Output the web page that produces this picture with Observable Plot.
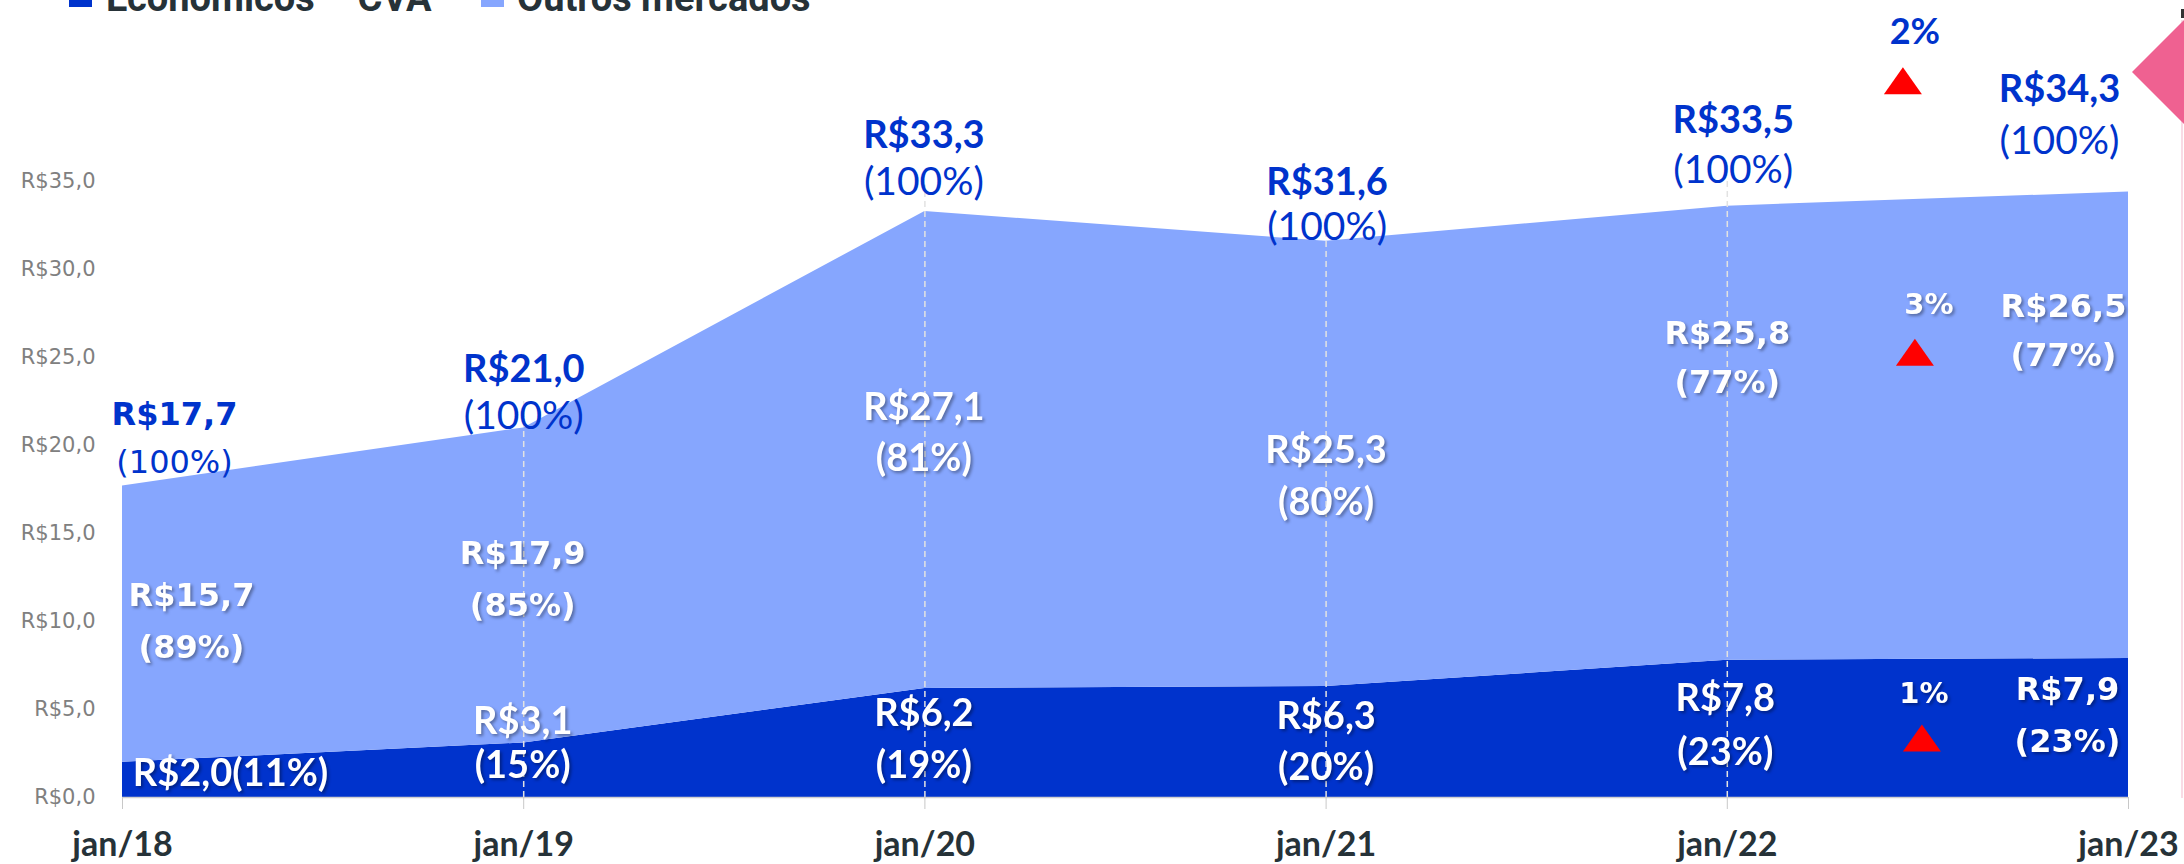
<!DOCTYPE html>
<html>
<head>
<meta charset="utf-8">
<script src="https://cdn.jsdelivr.net/npm/d3@7"></script>
<script src="https://cdn.jsdelivr.net/npm/@observablehq/plot@0.6"></script>
<style>
  html, body { margin: 0; padding: 0; background: #fff; overflow: hidden; }
  #wrap { position: relative; width: 2184px; height: 864px; overflow: hidden; }
  #chart { position: absolute; left: 0; top: 0; }
  .legend-swatch { position: absolute; width: 23px; height: 23px; top: -16px; }
  .legend-text { position: absolute; top: -21px; font: bold 38px Roboto, "Liberation Sans", sans-serif; line-height: 38px; color: #263238; white-space: nowrap; }
  .shadow { filter: drop-shadow(2px 2px 1.5px rgba(0,0,0,0.35)); }
  #deco-tri { position: absolute; left: 2132px; top: 20px; width: 52px; height: 104px; background: #ef6191; clip-path: polygon(0 50%, 100% 0, 100% 100%); }
  #deco-line { position: absolute; left: 2181px; top: 20px; width: 2px; height: 778px; background: #f9dbe5; }
  #deco-mark { position: absolute; left: 2181px; top: 9px; width: 3px; height: 9px; background: #333; }
</style>
</head>
<body>
<div id="wrap">
  <div id="chart"></div>
  <div id="legend"></div>
  <div id="deco-line"></div>
  <div id="deco-tri"></div>
  <div id="deco-mark"></div>
</div>
<script>
// ---------------- DATA ----------------
const periods = ["jan/18", "jan/19", "jan/20", "jan/21", "jan/22", "jan/23"];
const seriesNames = ["Econômicos – CVA", "Outros mercados"];
const economicos = [2.0, 3.1, 6.2, 6.3, 7.8, 7.9];
const outros = [15.7, 17.9, 27.1, 25.3, 25.8, 26.5];
const totais = [17.7, 21.0, 33.3, 31.6, 33.5, 34.3];
const pctEconomicos = [11, 15, 19, 20, 23, 23];
const pctOutros = [89, 85, 81, 80, 77, 77];
const pctTotal = [100, 100, 100, 100, 100, 100];
// growth jan/22 -> jan/23
const growthTotal = 2;
const growthOutros = 3;
const growthEconomicos = 1;
const yTicks = [0, 5, 10, 15, 20, 25, 30, 35];

// ---------------- STYLE / LAYOUT ----------------
const colors = ["#0033cc", "#86a6fe"];
const BLUE = "#0033cc";
const WIDE = "'DejaVu Sans', Verdana, sans-serif";
const NARROW = "Lato, 'Open Sans', sans-serif";
// label nudges in px, relative to anchor points (top: total; outros: middle of band; econ: middle of band)
const LAYOUT = {
  top:    {wide: [1,0,0,0,0,0], dx: [52,0,-1,1,6,-69],   dyV: [-71,-58,-76,-59,-87,-104], dyP: [-23,-11,-29,-14,-37,-52]},
  outros: {wide: [1,1,0,0,1,1], dx: [69,-1,-1,0,0,-65],  dyV: [-28,-32,-42,-13,-99,-119], dyP: [24,20,9,39,-50,-70]},
  econ:   {wide: [0,0,0,0,0,1], dx: [108,-1,-1,0,-2,-61], dyV: [-6,-48,-29,-25,-30,-38],   dyP: [0,-4,23,26,24,14]}
};
const GROWTH = {
  total:  {dxT: -13, dyT: -161, dxM: -25, dyM: -113},
  outros: {dxT: 1,   dyT: -121, dxM: -13, dyM: -73},
  econ:   {dxT: -4,  dyT: -34,  dxM: -6,  dyM: 10}
};

// ---------------- HELPERS ----------------
const fmtR = v => "R$" + v.toFixed(1).replace(".", ",");
const fmtP = p => "(" + p + "%)";
const idx = d3.range(periods.length);

function label(i, yVal, text, dx, dy, opts) {
  const wide = opts.wide;
  const bold = opts.bold !== false;
  return Plot.text([i], {
    x: d => d,
    y: () => yVal,
    text: () => text,
    dx, dy,
    textAnchor: "middle",
    fill: opts.fill,
    fontWeight: bold ? "bold" : "normal",
    fontFamily: wide ? WIDE : NARROW,
    fontSize: opts.size || (wide ? 32 : 38),
    className: opts.shadow ? "shadow" : undefined
  });
}

const flatTriangle = {
  draw(context) {
    context.moveTo(0, -13.5);
    context.lineTo(19, 13.5);
    context.lineTo(-19, 13.5);
    context.closePath();
  }
};

// ---------------- DATA TABLE ----------------
const rows = idx.flatMap(i => [
  {i, serie: seriesNames[0], v: economicos[i]},
  {i, serie: seriesNames[1], v: outros[i]}
]);

// ---------------- MARKS ----------------
const marks = [];
marks.push(Plot.areaY(rows, {x: "i", y: "v", z: "serie", fill: "serie"}));
marks.push(Plot.ruleX(idx.slice(1, 5), {x: d => d, y1: 0, y2: d => totais[d] + 1.5, stroke: "#e2e2e2", strokeWidth: 1.5, strokeDasharray: "6,4"}));
marks.push(Plot.ruleY([0], {stroke: "#d0d0d0", strokeWidth: 1.5}));
marks.push(Plot.axisY({
  ticks: yTicks, tickSize: 0, tickPadding: 27,
  tickFormat: d => "R$" + d.toFixed(1).replace(".", ","),
  fontSize: 21, fontFamily: WIDE, fill: "#808080", label: null
}));
marks.push(Plot.axisX({
  ticks: idx, tickSize: 12, tickPadding: 22, stroke: "#c8c8c8",
  tickFormat: i => periods[i],
  fontSize: 34, fontWeight: "bold", fontFamily: NARROW, fill: "#263238", label: null
}));

// labels
idx.forEach(i => {
  const L = LAYOUT.top;
  marks.push(label(i, totais[i], fmtR(totais[i]), L.dx[i], L.dyV[i], {wide: L.wide[i], fill: BLUE, size: L.wide[i] ? 32 : 38}));
  marks.push(label(i, totais[i], fmtP(pctTotal[i]), L.dx[i], L.dyP[i], {wide: L.wide[i], fill: BLUE, bold: false, size: L.wide[i] ? 32 : 39}));
});
idx.forEach(i => {
  const L = LAYOUT.outros;
  const mid = economicos[i] + outros[i] / 2;
  marks.push(label(i, mid, fmtR(outros[i]), L.dx[i], L.dyV[i], {wide: L.wide[i], fill: "#fff", shadow: true}));
  marks.push(label(i, mid, fmtP(pctOutros[i]), L.dx[i], L.dyP[i], {wide: L.wide[i], fill: "#fff", shadow: true}));
});
idx.forEach(i => {
  const L = LAYOUT.econ;
  const mid = economicos[i] / 2;
  if (i === 0) {
    marks.push(label(i, mid, fmtR(economicos[i]) + fmtP(pctEconomicos[i]), L.dx[i], L.dyV[i], {wide: L.wide[i], fill: "#fff", shadow: true}));
  } else {
    marks.push(label(i, mid, fmtR(economicos[i]), L.dx[i], L.dyV[i], {wide: L.wide[i], fill: "#fff", shadow: true}));
    marks.push(label(i, mid, fmtP(pctEconomicos[i]), L.dx[i], L.dyP[i], {wide: L.wide[i], fill: "#fff", shadow: true}));
  }
});

// growth markers between jan/22 and jan/23
const gx = 4.5, last = periods.length - 1;
const growthItems = [
  {g: growthTotal, y: totais[last], L: GROWTH.total, wide: false, fill: BLUE, shadow: false, size: 36},
  {g: growthOutros, y: economicos[last] + outros[last] / 2, L: GROWTH.outros, wide: true, fill: "#fff", shadow: true, size: 29},
  {g: growthEconomicos, y: economicos[last] / 2, L: GROWTH.econ, wide: true, fill: "#fff", shadow: true, size: 29}
];
growthItems.forEach(it => {
  marks.push(label(gx, it.y, it.g + "%", it.L.dxT, it.L.dyT, {wide: it.wide, fill: it.fill, shadow: it.shadow, size: it.size}));
  marks.push(Plot.dot([gx], {x: d => d, y: () => it.y, dx: it.L.dxM, dy: it.L.dyM, symbol: flatTriangle, fill: "#ff0000", stroke: "none", r: 10}));
});

const chart = Plot.plot({
  width: 2184,
  height: 864,
  marginLeft: 122,
  marginRight: 56,
  marginTop: 181,
  marginBottom: 67,
  x: {domain: [0, 5], axis: null},
  y: {domain: [0, 35], axis: null},
  color: {domain: seriesNames, range: colors},
  style: {background: "transparent", overflow: "visible"},
  marks
});
document.getElementById("chart").appendChild(chart);

// legend (partially above the visible page, as in the reference)
const legend = document.getElementById("legend");
const legendPos = [{sw: 69, tx: 106}, {sw: 481, tx: 517}];
seriesNames.forEach((name, k) => {
  const sw = document.createElement("div");
  sw.className = "legend-swatch";
  sw.style.left = legendPos[k].sw + "px";
  sw.style.background = colors[k];
  legend.appendChild(sw);
  const tx = document.createElement("div");
  tx.className = "legend-text";
  tx.style.left = legendPos[k].tx + "px";
  tx.textContent = name;
  legend.appendChild(tx);
});
</script>
</body>
</html>
